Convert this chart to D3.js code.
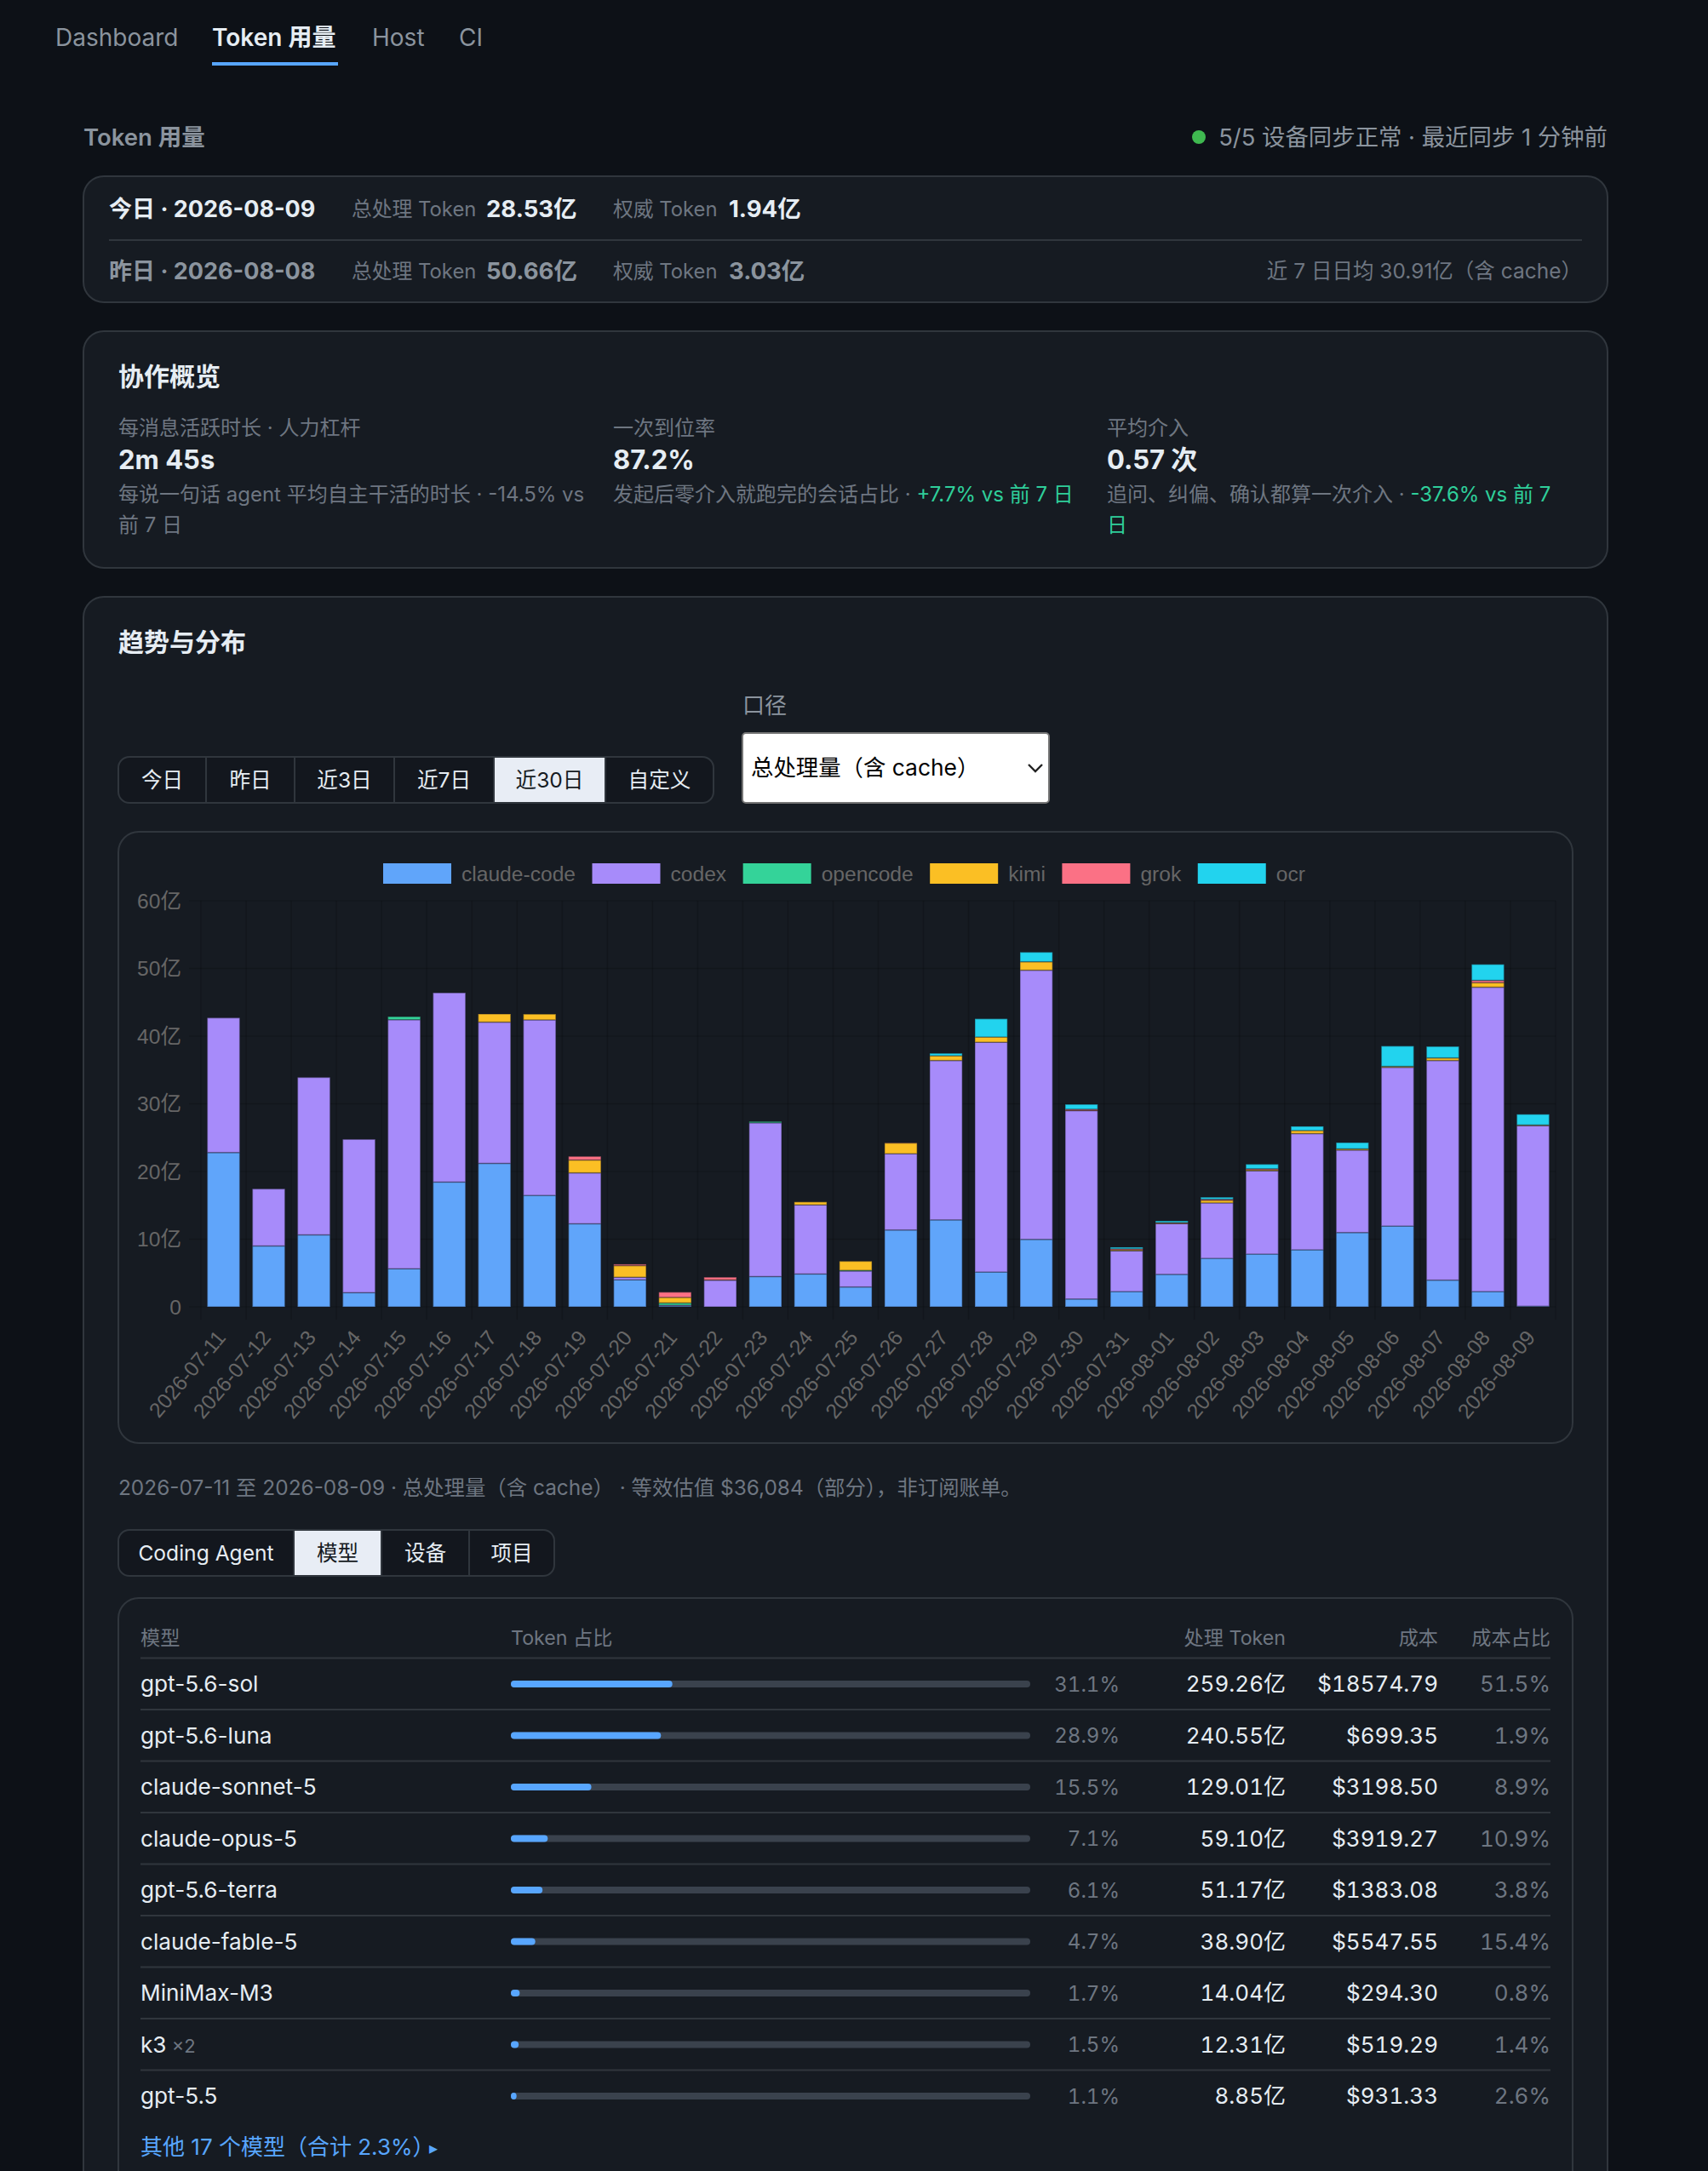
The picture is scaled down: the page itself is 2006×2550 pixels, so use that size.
<!DOCTYPE html>
<html lang="zh">
<head>
<meta charset="utf-8">
<title>Token 用量</title>
<script src="https://cdn.jsdelivr.net/npm/d3@7"></script>
<style>
  html, body { margin: 0; padding: 0; background: #0d1117; }
  svg { display: block; }
  text { font-family: Inter, "Noto Sans CJK SC", sans-serif; white-space: pre; }
  .chart-text { font-family: "Liberation Sans", "Noto Sans CJK SC", sans-serif; fill: #666; font-size: 24.6px; }
  .num { font-variant-numeric: tabular-nums; }
</style>
</head>
<body>
<svg id="page" width="2006" height="2550" viewBox="0 0 2006 2550"></svg>
<script>
// chart data, in 亿 tokens per day
var days = ["2026-07-11","2026-07-12","2026-07-13","2026-07-14","2026-07-15","2026-07-16","2026-07-17","2026-07-18","2026-07-19","2026-07-20",
  "2026-07-21","2026-07-22","2026-07-23","2026-07-24","2026-07-25","2026-07-26","2026-07-27","2026-07-28","2026-07-29","2026-07-30",
  "2026-07-31","2026-08-01","2026-08-02","2026-08-03","2026-08-04","2026-08-05","2026-08-06","2026-08-07","2026-08-08","2026-08-09"];
var agents = ["claude-code","codex","opencode","kimi","grok","ocr"];
var agentColors = ["#60a5fa","#a78bfa","#34d399","#fbbf24","#fb7185","#22d3ee"];
var claudeCode = [22.8,9.0,10.64,2.1,5.63,18.44,21.2,16.47,12.28,4.0,0.15,0,4.48,4.86,2.94,11.36,12.85,5.15,9.97,1.16,2.26,4.8,7.17,7.8,8.43,10.98,11.94,3.95,2.26,0.1];
var codex      = [19.9,8.43,23.26,22.65,36.8,27.96,20.87,25.93,7.52,0.38,0.1,3.95,22.72,10.21,2.36,11.27,23.55,33.95,39.77,27.84,6.02,7.5,8.19,12.3,17.17,12.18,23.45,32.45,44.97,26.67];
var opencode   = [0,0,0,0,0.45,0,0,0,0,0,0.33,0,0.18,0,0.1,0,0,0,0,0,0,0,0,0,0,0,0,0,0,0];
var kimi       = [0,0,0,0,0,0,1.2,0.85,1.9,1.72,0.82,0.03,0,0.43,1.34,1.59,0.7,0.77,1.25,0.03,0.14,0.1,0.39,0.15,0.45,0.19,0.14,0.38,0.67,0.1];
var grok       = [0,0,0,0,0,0,0,0,0.53,0.2,0.77,0.4,0,0,0,0.03,0,0,0,0.17,0.15,0.05,0.15,0.15,0,0,0,0,0.34,0];
var ocr        = [0,0,0,0,0,0,0,0,0,0,0,0,0,0,0,0,0.36,2.69,1.41,0.72,0.24,0.25,0.3,0.67,0.62,0.92,3.0,1.69,2.36,1.58];
var yTicks = [0,10,20,30,40,50,60];

// table data
var models = ["gpt-5.6-sol","gpt-5.6-luna","claude-sonnet-5","claude-opus-5","gpt-5.6-terra","claude-fable-5","MiniMax-M3","k3","gpt-5.5"];
var tokenShare = [31.1,28.9,15.5,7.1,6.1,4.7,1.7,1.5,1.1];
var tokenLabels = ["259.26亿","240.55亿","129.01亿","59.10亿","51.17亿","38.90亿","14.04亿","12.31亿","8.85亿"];
var costs = [18574.79,699.35,3198.50,3919.27,1383.08,5547.55,294.30,519.29,931.33];
var costShare = [51.5,1.9,8.9,10.9,3.8,15.4,0.8,1.4,2.6];

var rangeTabs = ["今日","昨日","近3日","近7日","近30日","自定义"];
var groupTabs = ["Coding Agent","模型","设备","项目"];

var CARD = "#161b22", LINE = "#30363d", TRACK = "#3a424d", TEXT = "#e6edf3", MUTED = "#8b949e", DIM = "#6e7681", BLUE = "#58a6ff", GREEN = "#2fcf9a";

var svg = d3.select("#page");

function label(x, y, str, size, color, opts) {
  opts = opts || {};
  return svg.append("text")
    .attr("class", opts.cls || null)
    .attr("x", x).attr("y", y).attr("dy", "0.36em")
    .attr("text-anchor", opts.anchor || "start")
    .attr("font-size", size)
    .attr("font-weight", opts.weight || 400)
    .attr("fill", color)
    .text(str);
}

function card(x0, y0, x1, y1, r) {
  svg.append("rect").attr("x", x0).attr("y", y0).attr("width", x1 - x0).attr("height", y1 - y0)
    .attr("rx", r).attr("fill", CARD).attr("stroke", LINE).attr("stroke-width", 2);
}

// --- top nav ---
label(65, 44, "Dashboard", 28, MUTED);
label(249, 44, "Token 用量", 28, TEXT, { weight: 600 });
label(437, 44, "Host", 28, MUTED);
label(539, 44, "CI", 28, MUTED);
svg.append("rect").attr("x", 249).attr("y", 73).attr("width", 148).attr("height", 4).attr("fill", BLUE);

// --- heading ---
label(98, 161, "Token 用量", 27.5, MUTED, { weight: 600 });
svg.append("circle").attr("cx", 1408).attr("cy", 161).attr("r", 8).attr("fill", "#3fb950");
label(1888, 161, "5/5 设备同步正常 · 最近同步 1 分钟前", 27.4, MUTED, { anchor: "end" });

// --- today / yesterday card ---
card(98, 207, 1888, 355, 24);
svg.append("line").attr("x1", 128).attr("x2", 1858).attr("y1", 282).attr("y2", 282).attr("stroke", LINE).attr("stroke-width", 2);
label(128, 245, "今日 · 2026-08-09", 27, TEXT, { weight: 700 });
label(413, 245, "总处理 Token", 23.8, DIM);
label(571, 245, "28.53亿", 27.5, TEXT, { weight: 700 });
label(720, 245, "权威 Token", 23.8, DIM);
label(856, 245, "1.94亿", 27.5, TEXT, { weight: 700 });
label(128, 318, "昨日 · 2026-08-08", 27, MUTED, { weight: 700 });
label(413, 318, "总处理 Token", 23.8, DIM);
label(571, 318, "50.66亿", 27.5, MUTED, { weight: 700 });
label(720, 318, "权威 Token", 23.8, DIM);
label(856, 318, "3.03亿", 27.5, MUTED, { weight: 700 });
label(1858, 318, "近 7 日日均 30.91亿（含 cache）", 24.5, DIM, { anchor: "end" });

// --- collaboration overview card ---
card(98, 389, 1888, 667, 24);
label(139, 442, "协作概览", 30, TEXT, { weight: 700 });
label(139, 502, "每消息活跃时长 · 人力杠杆", 24, DIM);
label(139, 540, "2m 45s", 31, TEXT, { weight: 700 });
label(139, 580, "每说一句话 agent 平均自主干活的时长 · -14.5% vs", 24, DIM);
label(139, 616, "前 7 日", 24, DIM);
label(720, 502, "一次到位率", 24, DIM);
label(720, 540, "87.2%", 31, TEXT, { weight: 700 });
var rate = label(720, 580, "发起后零介入就跑完的会话占比 · ", 24, DIM);
rate.append("tspan").attr("fill", GREEN).text("+7.7% vs 前 7 日");
label(1300, 502, "平均介入", 24, DIM);
label(1300, 540, "0.57 次", 31, TEXT, { weight: 700 });
var touch = label(1300, 580, "追问、纠偏、确认都算一次介入 · ", 24, DIM);
touch.append("tspan").attr("fill", GREEN).text("-37.6% vs 前 7");
label(1300, 616, "日", 24, GREEN);

// --- trend card, runs off the bottom of the page ---
card(98, 701, 1888, 2600, 24);
label(139, 754, "趋势与分布", 30, TEXT, { weight: 700 });

// segmented buttons
function segmented(edges, names, active, y0, y1, cy) {
  var x0 = edges[0], x1 = edges[edges.length - 1];
  svg.append("rect").attr("x", x0).attr("y", y0).attr("width", x1 - x0).attr("height", y1 - y0)
    .attr("rx", 13).attr("fill", "#0d1117").attr("fill-opacity", 0.35).attr("stroke", LINE).attr("stroke-width", 2);
  names.forEach(function (n, i) {
    var a = edges[i], b = edges[i + 1];
    if (i === active) {
      svg.append("rect").attr("x", a + 1).attr("y", y0 + 1).attr("width", b - a - 2).attr("height", y1 - y0 - 2).attr("fill", "#e8edf5");
    }
    if (i > 0) {
      svg.append("line").attr("x1", a).attr("x2", a).attr("y1", y0).attr("y2", y1).attr("stroke", LINE).attr("stroke-width", 2);
    }
    label((a + b) / 2, cy, n, 24.6, i === active ? "#161b22" : TEXT, { anchor: "middle" });
  });
}
segmented([139, 242, 346, 463, 580, 711, 838], rangeTabs, 4, 889, 943, 916);
segmented([139, 345, 448, 551, 651], groupTabs, 1, 1797, 1851, 1824);

// metric select
label(872, 829, "口径", 26, MUTED);
svg.append("rect").attr("x", 872).attr("y", 861).attr("width", 360).attr("height", 82).attr("rx", 4)
  .attr("fill", "#fff").attr("stroke", "#767676").attr("stroke-width", 2);
label(882, 901, "总处理量（含 cache）", 26.4, "#000");
svg.append("path").attr("d", d3.line()([[1208, 898], [1216, 906], [1224, 898]]))
  .attr("fill", "none").attr("stroke", "#222").attr("stroke-width", 2.4);

// --- stacked bar chart ---
card(139, 977, 1847, 1695, 24);

var plot = { left: 236, right: 1827, top: 1058, bottom: 1535, tickEnd: 1550 };
var x = d3.scaleBand().domain(days).range([plot.left, plot.right]).paddingInner(0.28).paddingOuter(0.14);
var y = d3.scaleLinear().domain([0, 60]).range([plot.bottom, plot.top]);
var step = x.step();

var rows = days.map(function (d, i) {
  return { day: d, "claude-code": claudeCode[i], codex: codex[i], opencode: opencode[i], kimi: kimi[i], grok: grok[i], ocr: ocr[i] };
});
var stacked = d3.stack().keys(agents)(rows);
var color = d3.scaleOrdinal(agents, agentColors);

// grid
var grid = svg.append("g").attr("stroke", "rgba(0,0,0,0.15)").attr("stroke-width", 1.6);
yTicks.forEach(function (t) {
  grid.append("line").attr("x1", plot.left - 14).attr("x2", plot.right).attr("y1", y(t)).attr("y2", y(t));
});
d3.range(days.length + 1).forEach(function (i) {
  var gx = plot.left + i * step;
  grid.append("line").attr("x1", gx).attr("x2", gx).attr("y1", plot.top).attr("y2", plot.tickEnd);
});

// y labels
svg.append("g").selectAll("text").data(yTicks).join("text")
  .attr("class", "chart-text").attr("x", 213).attr("y", function (t) { return y(t); }).attr("dy", "0.36em")
  .attr("text-anchor", "end").text(function (t) { return t === 0 ? "0" : t + "亿"; });

// x labels
svg.append("g").selectAll("text").data(days).join("text")
  .attr("class", "chart-text")
  .attr("transform", function (d) { return "translate(" + (x(d) + x.bandwidth() / 2 - 3) + ",1566) rotate(-50)"; })
  .attr("dy", "0.36em").attr("text-anchor", "end").text(function (d) { return d; });

// bars
svg.append("g").selectAll("g").data(stacked).join("g")
  .attr("fill", function (s) { return color(s.key); })
  .selectAll("rect").data(function (s) { return s.filter(function (p) { return p[1] - p[0] > 0; }); }).join("rect")
  .attr("x", function (p) { return x(p.data.day); })
  .attr("y", function (p) { return y(p[1]); })
  .attr("width", x.bandwidth())
  .attr("height", function (p) { return y(p[0]) - y(p[1]); })
  .attr("stroke", "rgba(22,27,34,0.35)").attr("stroke-width", 1.5);

// legend, laid out left to right from measured text
var legendX = 450;
agents.forEach(function (name, i) {
  svg.append("rect").attr("x", legendX).attr("y", 1014).attr("width", 80).attr("height", 24).attr("fill", agentColors[i]);
  var t = svg.append("text").attr("class", "chart-text").attr("x", legendX + 92).attr("y", 1026).attr("dy", "0.36em").text(name);
  legendX += 92 + t.node().getComputedTextLength() + 19.5;
});

label(139, 1747, "2026-07-11 至 2026-08-09 · 总处理量（含 cache） · 等效估值 $36,084（部分），非订阅账单。", 24.4, DIM);

// --- model table ---
card(139, 1877, 1847, 2600, 24);

var col = { name: 165, bar: 600, barEnd: 1210, pct: 1315, token: 1510, cost: 1689, share: 1821 };
label(col.name, 1924, "模型", 23.2, DIM);
label(col.bar, 1924, "Token 占比", 23.2, DIM);
label(col.token, 1924, "处理 Token", 23.2, DIM, { anchor: "end" });
label(col.cost, 1924, "成本", 23.2, DIM, { anchor: "end" });
label(col.share, 1924, "成本占比", 23.2, DIM, { anchor: "end" });

var rowY = d3.scaleLinear().domain([0, 8]).range([1978, 2462]);
var barW = d3.scaleLinear().domain([0, 100]).range([0, col.barEnd - col.bar]);

d3.range(models.length).forEach(function (i) {
  var cy = rowY(i);
  svg.append("line").attr("x1", col.name).attr("x2", col.share).attr("y1", cy - 30.5).attr("y2", cy - 30.5)
    .attr("stroke", LINE).attr("stroke-width", 2);
  var nm = label(col.name, cy, models[i], 26.2, TEXT);
  if (models[i] === "k3") nm.append("tspan").attr("font-size", 22).attr("fill", DIM).text(" ×2");
  svg.append("rect").attr("x", col.bar).attr("y", cy - 4).attr("width", col.barEnd - col.bar).attr("height", 8).attr("rx", 4).attr("fill", TRACK);
  svg.append("rect").attr("x", col.bar).attr("y", cy - 4).attr("width", barW(tokenShare[i])).attr("height", 8).attr("rx", 4).attr("fill", BLUE);
  label(col.pct, cy, tokenShare[i].toFixed(1) + "%", 24, DIM, { anchor: "end", cls: "num" });
  label(col.token, cy, tokenLabels[i], 26, TEXT, { anchor: "end", cls: "num" });
  label(col.cost, cy, "$" + costs[i].toFixed(2), 26, TEXT, { anchor: "end", cls: "num" });
  label(col.share, cy, costShare[i].toFixed(1) + "%", 26, DIM, { anchor: "end", cls: "num" });
});

label(col.name, 2522, "其他 17 个模型（合计 2.3%）", 26, BLUE);
label(504, 2523, "▸", 20, BLUE).style("font-family", "'DejaVu Sans'");
</script>
</body>
</html>
